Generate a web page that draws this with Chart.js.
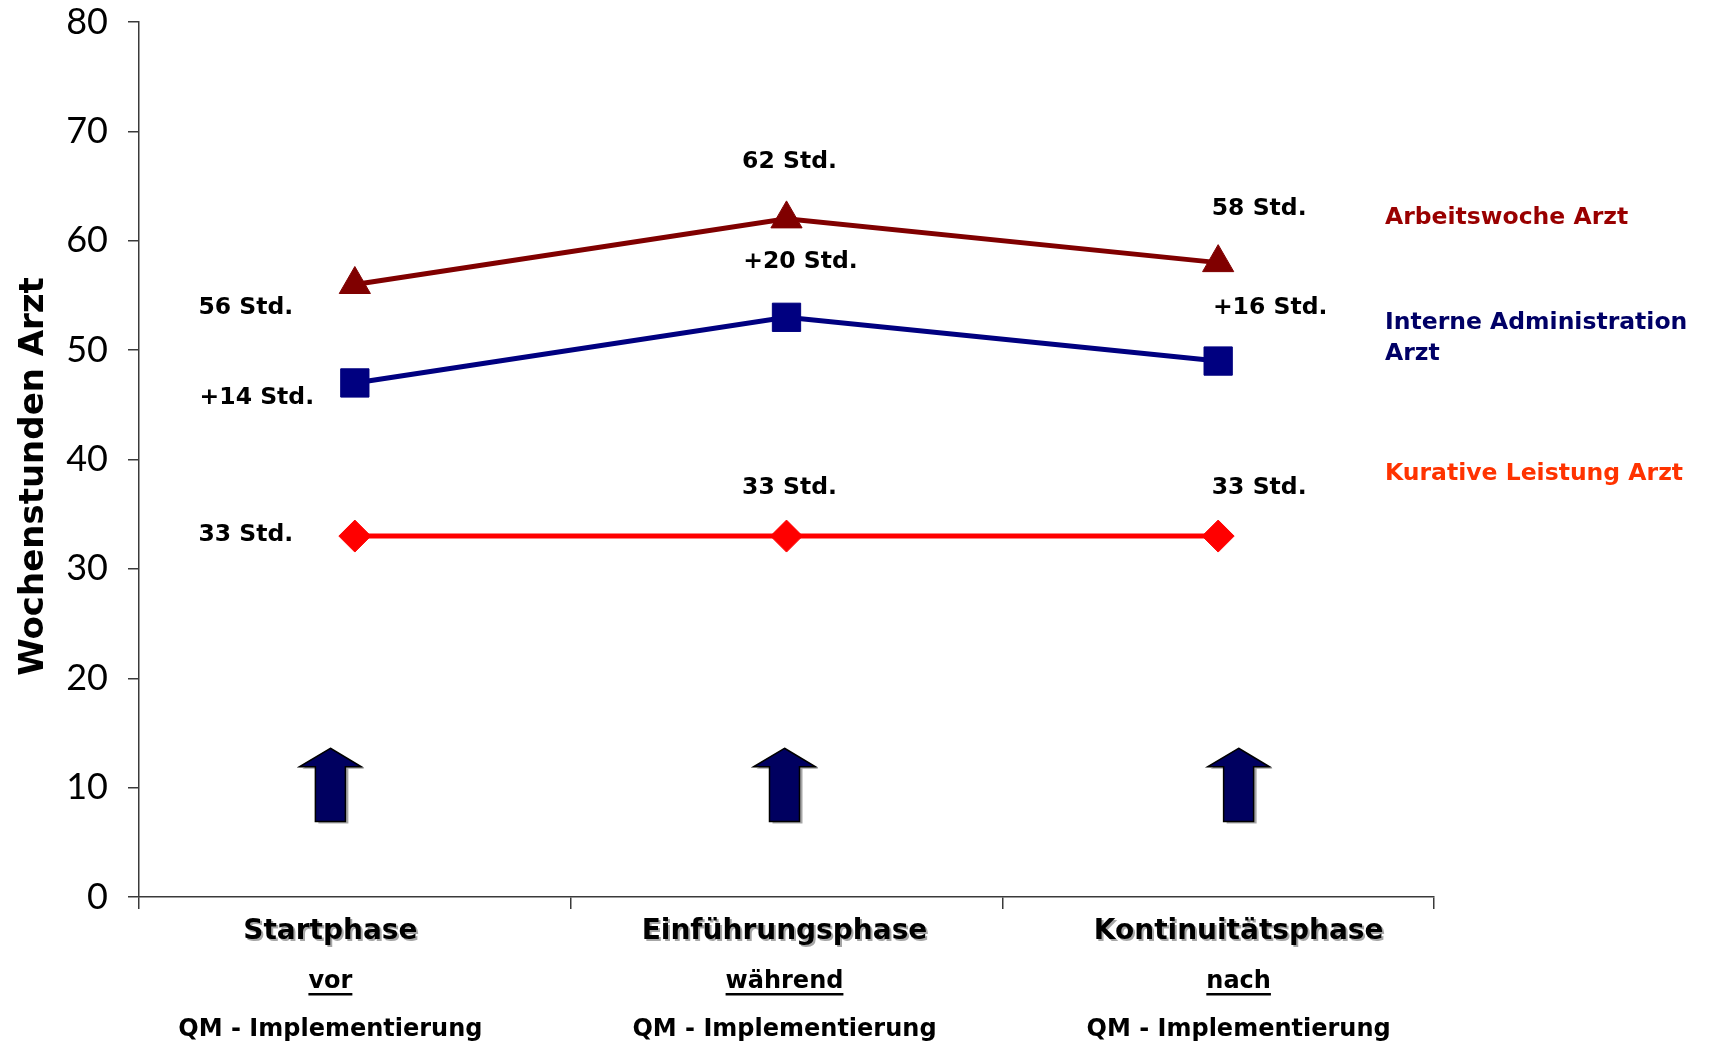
<!DOCTYPE html>
<html>
<head>
<meta charset="utf-8">
<script src="https://cdn.jsdelivr.net/npm/chart.js@4.4.1/dist/chart.umd.min.js"></script>
<style>
  html, body { margin: 0; padding: 0; background: #ffffff; overflow: hidden; }
  #wrap { width: 1713px; height: 1041px; position: relative; }
</style>
</head>
<body>
<div id="wrap"><canvas id="chart"></canvas></div>
<script>
// Phases of the QM introduction
const phases = ['Startphase', 'Einführungsphase', 'Kontinuitätsphase'];
const phaseTiming = ['vor', 'während', 'nach'];
const phaseSuffix = 'QM - Implementierung';

// Weekly hours of the physician
const kurativeLeistung = [33, 33, 33];          // curative work
const adminZusatz = [14, 20, 16];               // extra internal administration
const arbeitswoche = [56, 62, 58];              // total working week
const interneAdministration = kurativeLeistung.map((v, i) => v + adminZusatz[i]);

const seriesNames = ['Arbeitswoche Arzt', 'Interne Administration Arzt', 'Kurative Leistung Arzt'];
const legendLines = [['Arbeitswoche Arzt'], ['Interne Administration', 'Arzt'], ['Kurative Leistung Arzt']];

const yMin = 0, yMax = 80, yStep = 10;
const yTitle = 'Wochenstunden Arzt';

// ---- styling ----
const COL_WOCHE = '#800000';
const COL_ADMIN = '#000080';
const COL_KURATIV = '#ff0000';
const LEGEND_COLORS = ['#990000', '#000066', '#ff3300'];
const AXIS_COL = '#3a3a3a';
const LABEL_FONT = 'bold 23.5px "DejaVu Sans"';

// value label texts and their pixel offsets from each point
const labelTexts = [
  arbeitswoche.map(v => v + ' Std.'),
  adminZusatz.map(v => '+' + v + ' Std.'),
  kurativeLeistung.map(v => v + ' Std.')
];
const labelOffsets = [
  [[-109, 23], [3, -57], [41, -54]],
  [[-98, 15], [14, -55], [52, -53]],
  [[-109, -1], [3, -48], [41, -48]]
];

const valueLabels = {
  id: 'valueLabels',
  afterDatasetsDraw(chart) {
    const ctx = chart.ctx;
    ctx.save();
    ctx.font = LABEL_FONT;
    ctx.fillStyle = '#000000';
    ctx.textAlign = 'center';
    ctx.textBaseline = 'middle';
    chart.data.datasets.forEach((ds, di) => {
      const meta = chart.getDatasetMeta(di);
      meta.data.forEach((pt, i) => {
        const [dx, dy] = labelOffsets[di][i];
        ctx.fillText(labelTexts[di][i], pt.x + dx, pt.y + dy);
      });
    });
    ctx.restore();
  }
};

// series names to the right of the plot, and the vertical axis title
const sideTexts = {
  id: 'sideTexts',
  afterDraw(chart) {
    const ctx = chart.ctx;
    const y = chart.scales.y;
    const area = chart.chartArea;
    const x0 = area.right - 49;
    const anchors = [62.1, 52.45, 38.65];
    ctx.save();
    ctx.font = LABEL_FONT;
    ctx.textAlign = 'left';
    ctx.textBaseline = 'middle';
    legendLines.forEach((lines, i) => {
      ctx.fillStyle = LEGEND_COLORS[i];
      lines.forEach((t, k) => ctx.fillText(t, x0, y.getPixelForValue(anchors[i]) + k * 31));
    });

    ctx.translate(34, (area.top + area.bottom) / 2 + 17);
    ctx.rotate(-Math.PI / 2);
    ctx.font = 'bold 34px "DejaVu Sans"';
    ctx.fillStyle = '#000000';
    ctx.textAlign = 'center';
    ctx.fillText(yTitle, 0, 0);
    ctx.restore();
  }
};

// phase captions and arrows beneath each phase
const phaseDecor = {
  id: 'phaseDecor',
  afterDraw(chart) {
    const ctx = chart.ctx;
    const xs = chart.scales.x, ys = chart.scales.y;
    const step = (xs.getPixelForValue(1) - xs.getPixelForValue(0)) * 1.052;
    const mid = xs.getPixelForValue(1) - 2;
    const base = chart.chartArea.bottom;
    ctx.save();
    phases.forEach((name, i) => {
      const cx = mid + (i - 1) * step;

      // arrow
      const tip = ys.getPixelForValue(13.6);
      const neck = ys.getPixelForValue(11.9);
      const foot = ys.getPixelForValue(6.9);
      const hw = 31, sw = 15;
      ctx.save();
      ctx.shadowColor = 'rgba(0,0,0,0.35)';
      ctx.shadowOffsetX = 3;
      ctx.shadowOffsetY = 2;
      ctx.beginPath();
      ctx.moveTo(cx, tip);
      ctx.lineTo(cx + hw, neck);
      ctx.lineTo(cx + sw, neck);
      ctx.lineTo(cx + sw, foot);
      ctx.lineTo(cx - sw, foot);
      ctx.lineTo(cx - sw, neck);
      ctx.lineTo(cx - hw, neck);
      ctx.closePath();
      ctx.fillStyle = '#000060';
      ctx.fill();
      ctx.restore();
      ctx.lineWidth = 1.5;
      ctx.strokeStyle = '#000000';
      ctx.stroke();

      // captions
      ctx.textAlign = 'center';
      ctx.textBaseline = 'alphabetic';
      ctx.save();
      ctx.font = 'bold 28px "DejaVu Sans"';
      ctx.shadowColor = 'rgba(0,0,0,0.35)';
      ctx.shadowOffsetX = 2;
      ctx.shadowOffsetY = 2;
      ctx.fillStyle = '#000000';
      ctx.fillText(name, cx, base + 42);
      ctx.restore();

      ctx.font = 'bold 24px "DejaVu Sans"';
      ctx.fillStyle = '#000000';
      ctx.fillText(phaseTiming[i], cx, base + 91);
      const w = ctx.measureText(phaseTiming[i]).width;
      ctx.fillRect(cx - w / 2, base + 96, w, 2.5);

      ctx.fillText(phaseSuffix, cx, base + 139);
    });
    ctx.restore();
  }
};

new Chart(document.getElementById('chart'), {
  type: 'line',
  data: {
    labels: phases,
    datasets: [
      {
        label: seriesNames[0],
        data: arbeitswoche,
        borderColor: COL_WOCHE,
        backgroundColor: COL_WOCHE,
        borderWidth: 5,
        pointStyle: 'triangle',
        pointRadius: 18,
        pointBorderWidth: 1,
        pointBackgroundColor: COL_WOCHE,
        pointBorderColor: COL_WOCHE,
        tension: 0
      },
      {
        label: seriesNames[1],
        data: interneAdministration,
        borderColor: COL_ADMIN,
        backgroundColor: COL_ADMIN,
        borderWidth: 5,
        pointStyle: 'rect',
        pointRadius: 20,
        pointBorderWidth: 1,
        pointBackgroundColor: COL_ADMIN,
        pointBorderColor: COL_ADMIN,
        tension: 0
      },
      {
        label: seriesNames[2],
        data: kurativeLeistung,
        borderColor: COL_KURATIV,
        backgroundColor: COL_KURATIV,
        borderWidth: 5,
        pointStyle: 'rectRot',
        pointRadius: 16,
        pointBorderWidth: 1,
        pointBackgroundColor: COL_KURATIV,
        pointBorderColor: COL_KURATIV,
        tension: 0
      }
    ]
  },
  options: {
    responsive: true,
    maintainAspectRatio: false,
    animation: false,
    layout: { padding: { top: 22, right: 279, left: 0, bottom: 0 } },
    plugins: {
      legend: { display: false },
      tooltip: { enabled: false }
    },
    scales: {
      x: {
        type: 'category',
        offset: true,
        grid: {
          offset: true,
          drawOnChartArea: false,
          drawTicks: true,
          tickLength: 12,
          color: AXIS_COL,
          lineWidth: 1.5
        },
        border: { color: AXIS_COL, width: 1.5 },
        ticks: { display: false },
        afterFit(scale) { scale.height = 144; }
      },
      y: {
        min: yMin,
        max: yMax,
        ticks: {
          stepSize: yStep,
          color: '#000000',
          padding: 20,
          font: { family: 'Lato', size: 36 }
        },
        grid: {
          drawOnChartArea: false,
          drawTicks: true,
          tickLength: 11,
          color: AXIS_COL,
          lineWidth: 1.5
        },
        border: { color: AXIS_COL, width: 1.5 },
        afterFit(scale) {
          scale.width = 139;
          scale.paddingTop = 0;
          scale.paddingBottom = 0;
        }
      }
    }
  },
  plugins: [valueLabels, sideTexts, phaseDecor]
});
</script>
</body>
</html>
